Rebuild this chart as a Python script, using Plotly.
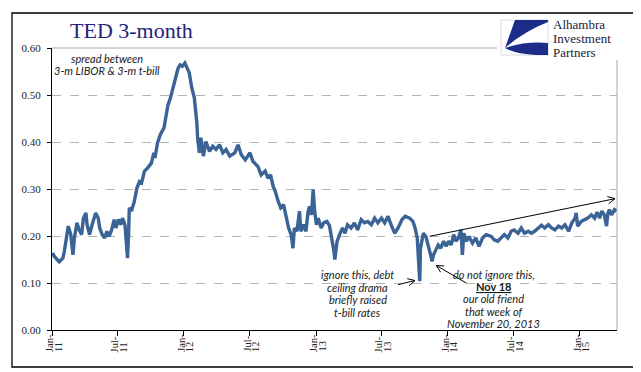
import math
import plotly.graph_objects as go

# ---------------- data ----------------
dates = [
    "2011-01-03", "2011-01-07", "2011-01-21", "2011-01-31", "2011-02-04", "2011-02-08", "2011-02-15",
    "2011-02-22", "2011-02-28", "2011-03-04", "2011-03-11", "2011-03-17", "2011-03-24", "2011-03-29",
    "2011-04-05", "2011-04-08", "2011-04-15", "2011-04-22", "2011-05-02", "2011-05-09", "2011-05-13",
    "2011-05-20", "2011-05-27", "2011-06-02", "2011-06-08", "2011-06-15", "2011-06-22", "2011-06-27",
    "2011-07-04", "2011-07-11", "2011-07-15", "2011-07-22", "2011-07-26", "2011-07-29", "2011-08-01",
    "2011-08-03", "2011-08-09", "2011-08-17", "2011-08-24", "2011-08-31", "2011-09-06", "2011-09-14",
    "2011-09-23", "2011-10-03", "2011-10-10", "2011-10-13", "2011-10-20", "2011-10-28", "2011-11-07",
    "2011-11-11", "2011-11-18", "2011-11-25", "2011-12-02", "2011-12-09", "2011-12-16", "2011-12-22",
    "2011-12-28", "2012-01-04", "2012-01-10", "2012-01-16", "2012-01-23", "2012-01-30", "2012-02-06",
    "2012-02-08", "2012-02-13", "2012-02-17", "2012-02-24", "2012-03-02", "2012-03-12", "2012-03-21",
    "2012-03-30", "2012-04-09", "2012-04-18", "2012-04-27", "2012-05-07", "2012-05-21", "2012-05-30",
    "2012-06-08", "2012-06-19", "2012-07-02", "2012-07-10", "2012-07-24", "2012-08-02", "2012-08-13",
    "2012-08-21", "2012-08-28", "2012-09-04", "2012-09-10", "2012-09-18", "2012-09-25", "2012-10-03",
    "2012-10-10", "2012-10-17", "2012-10-24", "2012-10-29", "2012-11-02", "2012-11-09", "2012-11-16",
    "2012-11-20", "2012-11-27", "2012-12-04", "2012-12-10", "2012-12-14", "2012-12-19", "2012-12-24",
    "2012-12-28", "2013-01-02", "2013-01-07", "2013-01-15", "2013-01-22", "2013-01-31", "2013-02-07",
    "2013-02-14", "2013-02-19", "2013-02-22", "2013-02-28", "2013-03-07", "2013-03-15", "2013-03-22",
    "2013-03-29", "2013-04-08", "2013-04-17", "2013-04-26", "2013-05-06", "2013-05-15", "2013-05-24",
    "2013-06-03", "2013-06-12", "2013-06-21", "2013-07-01", "2013-07-10", "2013-07-19", "2013-07-29",
    "2013-08-07", "2013-08-16", "2013-08-27", "2013-09-05", "2013-09-17", "2013-09-26", "2013-10-02",
    "2013-10-08", "2013-10-11", "2013-10-15", "2013-10-17", "2013-10-22", "2013-10-25", "2013-11-01",
    "2013-11-08", "2013-11-14", "2013-11-18", "2013-11-22", "2013-11-29", "2013-12-05", "2013-12-12",
    "2013-12-20", "2013-12-27", "2014-01-03", "2014-01-10", "2014-01-17", "2014-01-23", "2014-01-30",
    "2014-02-06", "2014-02-10", "2014-02-14", "2014-02-21", "2014-02-28", "2014-03-10", "2014-03-19",
    "2014-03-28", "2014-04-07", "2014-04-17", "2014-05-01", "2014-05-09", "2014-05-19", "2014-05-28",
    "2014-06-06", "2014-06-16", "2014-06-25", "2014-07-03", "2014-07-14", "2014-07-23", "2014-08-01",
    "2014-08-11", "2014-08-20", "2014-08-29", "2014-09-08", "2014-09-17", "2014-09-26", "2014-10-06",
    "2014-10-15", "2014-10-24", "2014-11-03", "2014-11-12", "2014-11-21", "2014-12-01", "2014-12-10",
    "2014-12-19", "2014-12-22", "2014-12-26", "2015-01-05", "2015-01-14", "2015-01-23", "2015-02-02",
    "2015-02-11", "2015-02-18", "2015-02-25", "2015-03-03", "2015-03-10", "2015-03-16", "2015-03-20",
    "2015-03-24", "2015-03-30", "2015-04-07", "2015-04-13",
]
ted_spread = [
    0.164, 0.157, 0.145, 0.153, 0.167, 0.189, 0.221,
    0.203, 0.160, 0.196, 0.228, 0.213, 0.203, 0.238,
    0.249, 0.224, 0.203, 0.224, 0.249, 0.238, 0.217,
    0.203, 0.196, 0.210, 0.199, 0.213, 0.235, 0.217,
    0.235, 0.224, 0.238, 0.224, 0.181, 0.153, 0.203,
    0.260, 0.253, 0.274, 0.302, 0.316, 0.313, 0.338,
    0.345, 0.355, 0.377, 0.366, 0.398, 0.416, 0.430,
    0.451, 0.479, 0.494, 0.515, 0.536, 0.557, 0.564,
    0.561, 0.568, 0.557, 0.547, 0.515, 0.494, 0.440,
    0.409, 0.377, 0.409, 0.370, 0.401, 0.380, 0.391,
    0.384, 0.394, 0.377, 0.384, 0.370, 0.377, 0.394,
    0.373, 0.362, 0.377, 0.359, 0.348, 0.330, 0.338,
    0.323, 0.330, 0.306, 0.295, 0.274, 0.260, 0.267,
    0.245, 0.217, 0.203, 0.174, 0.217, 0.210, 0.253,
    0.210, 0.224, 0.210, 0.253, 0.263, 0.245, 0.299,
    0.253, 0.224, 0.238, 0.217, 0.228, 0.231, 0.222,
    0.196, 0.170, 0.150, 0.188, 0.203, 0.217, 0.206,
    0.224, 0.217, 0.228, 0.213, 0.235, 0.228, 0.231,
    0.224, 0.238, 0.228, 0.238, 0.228, 0.242, 0.221,
    0.206, 0.217, 0.235, 0.242, 0.238, 0.231, 0.217,
    0.196, 0.160, 0.104, 0.174, 0.196, 0.206, 0.199,
    0.181, 0.160, 0.146, 0.160, 0.171, 0.181, 0.174,
    0.189, 0.178, 0.189, 0.181, 0.203, 0.189, 0.196,
    0.213, 0.160, 0.206, 0.189, 0.199, 0.185, 0.196,
    0.178, 0.196, 0.203, 0.199, 0.192, 0.189, 0.196,
    0.203, 0.196, 0.210, 0.213, 0.206, 0.217, 0.206,
    0.210, 0.206, 0.210, 0.217, 0.223, 0.217, 0.224,
    0.217, 0.213, 0.221, 0.217, 0.224, 0.210, 0.228,
    0.238, 0.249, 0.221, 0.231, 0.235, 0.238, 0.245,
    0.238, 0.251, 0.238, 0.253, 0.245, 0.221, 0.249,
    0.256, 0.245, 0.256, 0.253,
]

tick_dates = ["2011-01-01", "2011-07-01", "2012-01-01", "2012-07-01", "2013-01-01",
              "2013-07-01", "2014-01-01", "2014-07-01", "2015-01-01"]
tick_months = ["Jan-", "Jul-", "Jan-", "Jul-", "Jan-", "Jul-", "Jan-", "Jul-", "Jan-"]
tick_years = ["11", "11", "12", "12", "13", "13", "14", "14", "15"]
y_ticks = [0.0, 0.1, 0.2, 0.3, 0.4, 0.5, 0.6]

title_text = "TED 3-month"
logo_lines = ["Alhambra", "Investment", "Partners"]
note_spread = ["spread between", "3-m LIBOR & 3-m t-bill"]
note_debt = ["ignore this, debt", "ceiling drama", "briefly raised", "t-bill rates"]
note_nov = ["do not ignore this,", "<b><u>Nov 18</u></b>", "our old friend", "that week of",
            "November 20, 2013"]

# ---------------- layout geometry ----------------
W, H = 641, 372
ML, MR, MT, MB = 44, 32, 40, 50
PW, PH = W - ML - MR, H - MT - MB


def px(x):
    return (x - ML) / PW


def py(y):
    return (H - MB - y) / PH


def arrow_shape(x0, y0, x1, y1, size=8):
    ang = math.atan2(y1 - y0, x1 - x0)
    pts = []
    for s in (1, -1):
        a = ang + math.pi + s * math.radians(27)
        pts.append((x1 + size * math.cos(a), y1 + size * math.sin(a)))
    path = (f"M{px(x0)},{py(y0)} L{px(x1)},{py(y1)} "
            f"M{px(pts[0][0])},{py(pts[0][1])} L{px(x1)},{py(y1)} L{px(pts[1][0])},{py(pts[1][1])}")
    return dict(type="path", xref="paper", yref="paper", path=path,
                line=dict(color="black", width=1), layer="above")


LINE_BLUE = "#3A6396"
NAVY = "#23237A"

fig = go.Figure()
fig.add_trace(go.Scatter(x=dates, y=ted_spread, mode="lines",
                         line=dict(color=LINE_BLUE, width=3.4), showlegend=False,
                         hoverinfo="skip"))

shapes = []
# plot area top and right borders (gray)
shapes.append(dict(type="line", xref="paper", yref="paper", x0=0, x1=1, y0=1, y1=1,
                   line=dict(color="#A6A6A6", width=1), layer="above"))
shapes.append(dict(type="line", xref="paper", yref="paper", x0=1, x1=1, y0=0, y1=1,
                   line=dict(color="#A6A6A6", width=1), layer="above"))
# outer frame
shapes.append(dict(type="rect", xref="paper", yref="paper", x0=px(4), x1=px(630),
                   y0=py(359), y1=py(5), line=dict(color="black", width=1.3), layer="above"))
# logo background (covers plot borders)
shapes.append(dict(type="rect", xref="paper", yref="paper", x0=px(489), x1=px(626),
                   y0=py(52), y1=py(7), line=dict(width=0), fillcolor="white", layer="above"))
# logo box
shapes.append(dict(type="rect", xref="paper", yref="paper", x0=px(493), x1=px(540),
                   y0=py(47), y1=py(12), line=dict(color="#D0D0D8", width=0.8),
                   fillcolor="white", layer="above"))
logo_top = (f"M{px(507)},{py(12)} L{px(540)},{py(12)} L{px(540)},{py(14)} "
            f"Q{px(515)},{py(24)} {px(497)},{py(40)} Z")
logo_bot = (f"M{px(497)},{py(40)} Q{px(518)},{py(33)} {px(540)},{py(35)} L{px(540)},{py(47)} "
            f"L{px(528)},{py(47)} Q{px(508)},{py(46)} {px(497)},{py(40)} Z")
for p in (logo_top, logo_bot):
    shapes.append(dict(type="path", xref="paper", yref="paper", path=p,
                       line=dict(width=0), fillcolor="#1B2C8A", layer="above"))
# arrows
shapes.append(arrow_shape(390, 276.7, 407, 272.5))
shapes.append(arrow_shape(458.3, 275, 428.3, 257.5))
shapes.append(arrow_shape(421.7, 228.3, 607, 190.7))

annotations = []
annotations.append(dict(xref="paper", yref="paper", x=px(60), y=py(23), xanchor="left",
                        yanchor="middle", text=title_text, showarrow=False,
                        font=dict(family="Liberation Serif", size=22, color=NAVY)))
for i, t in enumerate(logo_lines):
    annotations.append(dict(xref="paper", yref="paper", x=px(544), y=py(16 + 14 * i),
                            xanchor="left", yanchor="middle", text=t, showarrow=False,
                            borderpad=0,
                            font=dict(family="Liberation Serif", size=13, color="#1A1A3A")))

# rotated x tick labels (two lines each)
tick_font = dict(family="Liberation Serif", size=10.5, color="#222222")
for d, m, yv in zip(tick_dates, tick_months, tick_years):
    annotations.append(dict(xref="x", yref="paper", x=d, y=py(346), text=m, textangle=-90,
                            xanchor="center", yanchor="bottom", xshift=-3, showarrow=False,
                            font=tick_font))
    annotations.append(dict(xref="x", yref="paper", x=d, y=py(346), text=yv, textangle=-90,
                            xanchor="center", yanchor="bottom", xshift=6, showarrow=False,
                            font=tick_font))

note_font = dict(family="Lato", size=11, color="#1A1A1A")
for i, t in enumerate(note_spread):
    annotations.append(dict(xref="paper", yref="paper", x=px(99), y=py(50 + 12.3 * i),
                            text=f"<i>{t}</i>", showarrow=False, font=note_font,
                            xanchor="center", yanchor="middle"))
for i, t in enumerate(note_debt):
    annotations.append(dict(xref="paper", yref="paper", x=px(349.5), y=py(266.7 + 12.5 * i),
                            text=f"<i>{t}</i>", showarrow=False, font=note_font,
                            xanchor="center", yanchor="middle"))
for i, t in enumerate(note_nov):
    txt = t if "Nov 18" in t else f"<i>{t}</i>"
    annotations.append(dict(xref="paper", yref="paper", x=px(485.5), y=py(266 + 12.4 * i),
                            text=txt, showarrow=False, font=note_font,
                            xanchor="center", yanchor="middle"))

fig.update_layout(
    width=W, height=H,
    margin=dict(l=ML, r=MR, t=MT, b=MB, pad=0),
    paper_bgcolor="white", plot_bgcolor="white",
    shapes=shapes, annotations=annotations,
    xaxis=dict(
        type="date", range=["2011-01-01", "2015-04-14"],
        tickmode="array", tickvals=tick_dates, showticklabels=False,
        ticks="outside", ticklen=5, tickcolor="black", tickwidth=1,
        showline=True, linecolor="black", linewidth=1.2,
        showgrid=False, zeroline=False,
    ),
    yaxis=dict(
        range=[0, 0.6], tickmode="array", tickvals=y_ticks, tickformat=".2f",
        ticks="outside", ticklen=4, tickcolor="black", tickwidth=1,
        ticklabelstandoff=4,
        showline=True, linecolor="black", linewidth=1.2,
        showgrid=True, gridcolor="#B4B4B4", griddash="dash", gridwidth=1,
        zeroline=False,
        tickfont=dict(family="Liberation Serif", size=11, color="#222222"),
    ),
)

fig.write_html("out.html")
